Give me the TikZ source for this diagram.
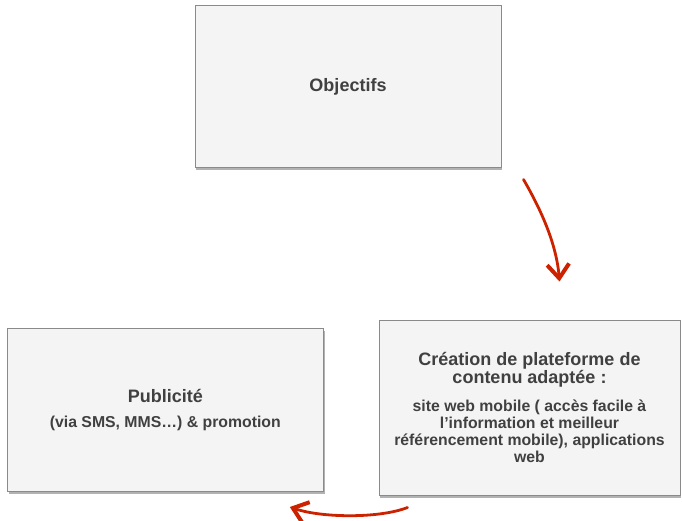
\documentclass[tikz,border=0pt]{standalone}
\usepackage{fontspec}
\setsansfont{Liberation Sans}
\usepackage{tikz}
\usetikzlibrary{calc,shadows,arrows.meta,positioning}
\definecolor{boxfill}{RGB}{244,244,244}
\definecolor{boxline}{RGB}{138,138,138}
\definecolor{textgray}{RGB}{64,64,64}
\definecolor{arrowred}{RGB}{204,34,0}
\newcommand{\titlef}{\fontsize{18}{18.3}\selectfont}
\newcommand{\subf}{\fontsize{15.8}{17}\selectfont}
\tikzset{
box/.style={draw=boxline, line width=1pt, fill=boxfill, % grey slide boxes
  drop shadow={shadow xshift=1.2pt, shadow yshift=-2.5pt, fill=black, opacity=0.3},
  font=\sffamily\bfseries\subf, text=textgray, align=center, inner sep=0pt},
redarrow/.style={draw=arrowred, line width=2.8pt, line cap=round,
  -{Straight Barb[length=14pt,width=22pt,line width=4pt]}},
}

\begin{document}
\begin{tikzpicture}[x=1pt,y=-1pt]
   \useasboundingbox (0,0) rectangle (682,521);
   \node[box, minimum width=306, minimum height=162] (obj) at (348,87) {\titlef Objectifs};
   \node[box, minimum width=301, minimum height=175] (creation) at (529.5,407.5)
     {\titlef Création de plateforme de\\[1.3pt] \titlef contenu adaptée :\\[10.4pt]
      site web mobile ( accès facile à\\ l’information et meilleur\\
      référencement mobile), applications\\ web};
   \node[box, minimum width=316, minimum height=163] (pub) at (165.3,410)
     {\titlef Publicité\\[8pt] (via SMS, MMS…) \& promotion};
   % free ends of the hand drawn arrows
   \coordinate (objout) at ($(obj.south east)+(22,11)$);
   \coordinate (creain) at ($(creation.north west)+(181,-38)$);
   \coordinate (creaout) at ($(creation.south west)+(29,12)$);
   \coordinate (pubin) at ($(pub.south east)+(-34,15)$);
   \draw[redarrow] (objout) .. controls ($(objout)+(18,31)$) and ($(creain)+(-3,-37)$) .. (creain);
   \draw[redarrow] (creaout) .. controls ($(creaout)+(-28,11)$) and ($(pubin)+(32,11)$) .. (pubin);
\end{tikzpicture}
\end{document}
